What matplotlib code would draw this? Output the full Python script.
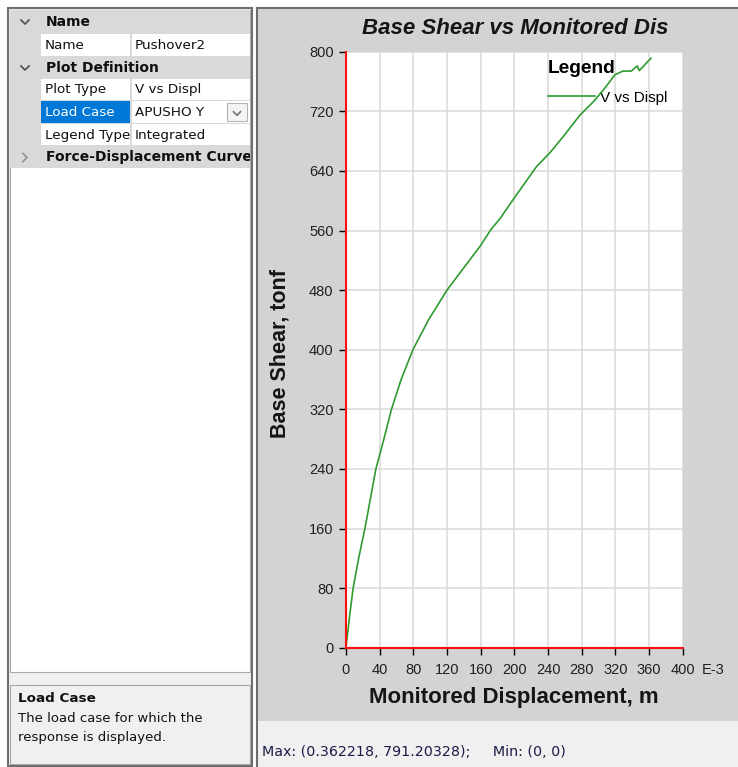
import matplotlib
matplotlib.use("Agg")
import matplotlib.pyplot as plt
from matplotlib.patches import Rectangle
from matplotlib.transforms import Bbox, TransformedBbox

# pushover curve: monitored displacement (E-3 m) vs base shear (tonf)
displ = [0, 4, 8.5, 15, 22.5, 29, 35.5, 45, 54, 65.5, 79.5, 98, 120, 140, 160,
         172, 183, 200.7, 226.5, 242, 258, 278, 294, 306, 319.5, 329, 339,
         346, 348.4, 362.218]
shear = [0, 40, 80, 120, 160, 200, 240, 280, 320, 360, 400, 440, 480, 510,
         540, 561, 576, 605, 646, 664, 686, 715, 733, 749, 769, 774, 774,
         781, 774.5, 791.20328]

x_ticks = list(range(0, 401, 40))
y_ticks = list(range(0, 801, 80))

# property grid rows: (kind, name, value)
grid_rows = [
    ("cat", "Name", ""),
    ("prop", "Name", "Pushover2"),
    ("cat", "Plot Definition", ""),
    ("prop", "Plot Type", "V vs Displ"),
    ("sel", "Load Case", "APUSHO Y"),
    ("prop", "Legend Type", "Integrated"),
    ("closed", "Force-Displacement Curve", ""),
]
row_tops = [10, 34, 57, 79, 101, 124, 146, 169]

W, H = 738, 767
UI_FONT = "DejaVu Sans"
CHART_FONT = "Liberation Sans"
GREEN = "#2f9a2f"

fig = plt.figure(figsize=(W / 100, H / 100), dpi=100, facecolor="white")

# whole window drawn in pixel coordinates
ui = fig.add_axes([0, 0, 1, 1])
ui.set_xlim(0, W)
ui.set_ylim(H, 0)
ui.axis("off")


def box(x0, y0, x1, y1, fc, ec="none", lw=0):
    ui.add_patch(Rectangle((x0, y0), x1 - x0, y1 - y0, facecolor=fc,
                           edgecolor=ec, linewidth=lw))


def clipped_text(x, y, s, x0, x1, **kw):
    t = ui.text(x, y, s, va="center", family=UI_FONT, **kw)
    t.set_clip_box(TransformedBbox(Bbox.from_extents(x0, 0, x1, H), ui.transData))
    t.set_clip_on(True)
    return t


def chevron(x, y, down=True, color="#505050", s=4):
    if down:
        ui.plot([x - s, x, x + s], [y - s / 2, y + s / 2, y - s / 2], color=color, lw=1.2)
    else:
        ui.plot([x - s / 2, x + s / 2, x - s / 2], [y - s, y, y + s], color=color, lw=1.2)


# ---- left panel: property grid ----
box(8, 8, 252, 766, "#f0f0f0", "#6e6e6e", 1.5)
box(10, 10, 250, 672, "white", "#a8a8a8", 0.8)
box(10, 10, 250, 168, "#d9d9d9")

for (kind, name, value), top, bottom in zip(grid_rows, row_tops[:-1], row_tops[1:]):
    yc = (top + bottom) / 2
    if kind in ("cat", "closed"):
        chevron(25, yc, down=(kind == "cat"), color="#505050" if kind == "cat" else "#909090")
        clipped_text(46, yc, name, 10, 250, fontsize=10, fontweight="bold", color="#101010")
        continue
    name_bg = "#0078d7" if kind == "sel" else "white"
    box(41, top, 130, bottom - 1, name_bg)
    box(131.5, top, 250, bottom - 1, "white")
    clipped_text(45, yc, name, 41, 130, fontsize=9.7,
                 color="white" if kind == "sel" else "#101010")
    clipped_text(135, yc, value, 132, 250, fontsize=9.7, color="#101010")
    if kind == "sel":
        box(227, top + 2, 247, bottom - 3, "#f4f4f4", "#b4b4b4", 0.8)
        chevron(237, yc + 1, color="#707070", s=3.5)

box(10, 685, 250, 764, "#f0f0f0", "#a8a8a8", 0.8)
ui.text(18, 698, "Load Case", family=UI_FONT, fontsize=9.7, fontweight="bold",
        va="center", color="#101010")
ui.text(18, 719, "The load case for which the", family=UI_FONT, fontsize=9.5,
        va="center", color="#101010")
ui.text(18, 738, "response is displayed.", family=UI_FONT, fontsize=9.5,
        va="center", color="#101010")

# ---- right panel: plot window ----
box(257, 8, W + 2, 721, "#d3d3d3")
box(257, 721, W + 2, H + 2, "#f0f0f0")
ui.plot([257, W], [8, 8], color="#6e6e6e", lw=1.5)
ui.plot([257, 257], [8, H], color="#6e6e6e", lw=1.5)

ui.text(515, 29, "Base Shear vs Monitored Dis", family=CHART_FONT, fontsize=16,
        fontweight="bold", fontstyle="italic", ha="center", va="center", color="#151515")
ui.text(280, 353, "Base Shear, tonf", family=CHART_FONT, fontsize=15.5,
        fontweight="bold", rotation=90, ha="center", va="center", color="#151515")
ui.text(514, 697, "Monitored Displacement, m", family=CHART_FONT, fontsize=16,
        fontweight="bold", ha="center", va="center", color="#151515")
ui.text(702, 670, "E-3", family=CHART_FONT, fontsize=10.5, ha="left", va="center",
        color="#202020")

max_pt = (displ[-1] / 1000, shear[-1])
ui.text(262, 752, f"Max: ({max_pt[0]:g}, {max_pt[1]:.5f});     Min: (0, 0)",
        family=UI_FONT, fontsize=10.3, ha="left", va="center", color="#1c1c48")

# ---- chart ----
ax = fig.add_axes([346 / W, (H - 647.7) / H, 336.7 / W, 596 / H])
ax.set_facecolor("white")
ax.plot(displ, shear, color=GREEN, lw=1.2, label="V vs Displ", zorder=3)

ax.set_xlim(0, 400)
ax.set_ylim(0, 800)
ax.set_xticks(x_ticks)
ax.set_yticks(y_ticks)
ax.grid(True, color="#d9d9d9", lw=1.1)
ax.set_axisbelow(True)
for side in ("top", "right"):
    ax.spines[side].set_visible(False)
for side in ("left", "bottom"):
    ax.spines[side].set_color("#ff1010")
    ax.spines[side].set_linewidth(1.5)
    ax.spines[side].set_zorder(4)
ax.tick_params(axis="both", direction="out", length=5, width=1, color="black",
               labelsize=10.5, labelcolor="#202020")
ax.tick_params(axis="x", pad=6)
ax.tick_params(axis="y", pad=4)
for lab in ax.get_xticklabels() + ax.get_yticklabels():
    lab.set_family(CHART_FONT)

leg = ax.legend(title="Legend", frameon=False, loc="upper left",
                bbox_to_anchor=((548 - 346) / 336.7, (647.7 - 60) / 596),
                borderaxespad=0, borderpad=0, handlelength=3.1, handletextpad=0.3,
                labelspacing=0.9, prop={"family": CHART_FONT, "size": 11},
                title_fontproperties={"family": CHART_FONT, "size": 13.8, "weight": "bold"})
leg._legend_box.align = "left"
leg.set_zorder(2)

fig.savefig("out.png", dpi=100, facecolor="white")
